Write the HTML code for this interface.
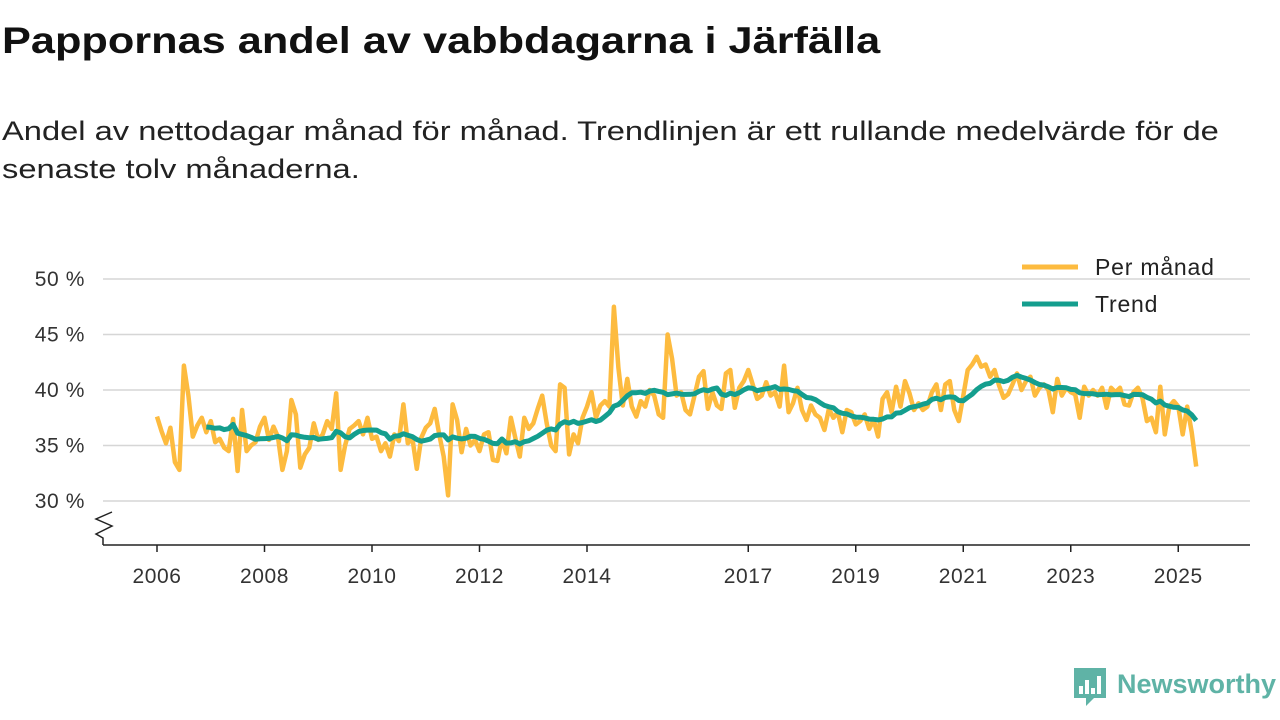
<!DOCTYPE html>
<html><head><meta charset="utf-8"><style>
body{margin:0;width:1280px;height:720px;background:#fff;font-family:"Liberation Sans",sans-serif;color:#111;overflow:hidden;position:relative}
h1{position:absolute;left:2px;top:20px;margin:0;font-size:37px;font-weight:bold;white-space:nowrap;transform:scaleX(1.17);transform-origin:left top}
p.sub{position:absolute;left:2px;top:112px;margin:0;font-size:27px;line-height:38px;width:1020px;color:#222;transform:scaleX(1.21);transform-origin:left top}
svg{position:absolute;left:0;top:0}
</style></head><body>
<h1>Pappornas andel av vabbdagarna i Järfälla</h1>
<p class="sub">Andel av nettodagar månad för månad. Trendlinjen är ett rullande medelvärde för de senaste tolv månaderna.</p>
<svg id="chart" width="1280" height="720"></svg>
<script>
const yTicks=[30,35,40,45,50];
const xTickYears=[2006,2008,2010,2012,2014,2017,2019,2021,2023,2025];
const startYear=2006;
const monthly=[
37.6,36.3,35.2,36.6,33.5,32.8,42.2,39.5,35.8,36.8,37.5,36.2,
37.2,35.3,35.6,34.8,34.5,37.4,32.7,38.2,34.5,35,35.3,36.7,
37.5,35.5,36.7,35.8,32.8,34.5,39.1,37.8,33,34.2,34.8,37,
35.5,36,37.2,36.5,39.7,32.8,35,36.5,36.8,37.2,36,37.5,
35.6,35.8,34.5,35.2,34,36,35.4,38.7,35.2,35.7,32.9,35.7,
36.6,37,38.3,36,34,30.5,38.7,37.3,34.4,36.5,35,35.5,
34.5,36,36.2,33.7,33.6,35.6,34.3,37.5,35.7,34,37.5,36.5,
37,38.3,39.5,37,35,34.5,40.5,40.2,34.2,36,35.2,37.5,
38.5,39.8,37.5,38.6,39,38.5,47.5,42,38.6,41,38.5,37.6,
39,38.5,40,39.5,37.8,37.5,45,42.8,39.5,39.8,38.2,37.8,
39.5,41.2,41.7,38.3,39.8,38.6,38.3,41.5,41.8,38.4,40.2,40.8,
41.8,40.5,39.2,39.5,40.7,39.5,39.8,38.5,42.2,38,38.8,40.2,
38.2,37.3,38.6,37.8,37.5,36.4,38.3,37.5,38,36.2,38.2,38,
36.9,37.2,37.8,36.5,37.3,35.8,39.2,39.8,38,40.3,38.5,40.8,
39.7,38.2,38.8,38.2,38.5,39.8,40.5,38.2,40.5,40.8,38.2,37.2,
39.5,41.8,42.3,43,42.1,42.3,41.2,41.8,40.4,39.3,39.6,40.5,
41.5,40,40.8,41.2,39.5,40.2,40.5,40,38,41,39.5,40.2,
39.8,39.6,37.5,40.3,39.5,40,39.5,40.2,38.4,40.2,39.8,40.2,
38.7,38.6,39.8,40.2,39.3,37.2,37.5,36.2,40.3,36,38.5,39,
38.5,36,38.5,36.2,33.1];
const NS='http://www.w3.org/2000/svg';
const svg=document.getElementById('chart');
const x=t=>157+(t-startYear)*53.75;
const y=v=>501-(v-30)*11.1;
function mk(tag,attrs,parent){const e=document.createElementNS(NS,tag);for(const k in attrs)e.setAttribute(k,attrs[k]);(parent||svg).appendChild(e);return e;}
yTicks.forEach(v=>{
  const g=mk('line',{x1:103,x2:1250,y1:y(v),y2:y(v),stroke:'#d6d6d6','stroke-width':1.5});
  
  
  const t=mk('text',{x:85,y:y(v)+7,'text-anchor':'end','font-size':21,fill:'#333','letter-spacing':'0.6'});
  t.textContent=v+' %';
  
  
});
const ax=mk('path',{d:'M103 545 H1250',stroke:'#222','stroke-width':1.5,fill:'none'});


const br=mk('path',{d:'M103 545 V538 L96 534 L112 526 L96 519 L112 512',stroke:'#222','stroke-width':1.5,fill:'none'});


xTickYears.forEach(yr=>{
  const l=mk('line',{x1:x(yr),x2:x(yr),y1:545,y2:552,stroke:'#222','stroke-width':1.5});
  
  
  const t=mk('text',{x:x(yr),y:583,'text-anchor':'middle','font-size':21,fill:'#333','letter-spacing':'0.6'});
  t.textContent=yr;
  
  
});
const pts=monthly.map((v,i)=>x(startYear+i/12).toFixed(1)+','+y(v).toFixed(1)).join(' ');
const m=mk('polyline',{points:pts,fill:'none',stroke:'#FDBB3F','stroke-width':4.5,'stroke-linejoin':'round'});


const tp=[];
for(let i=11;i<monthly.length;i++){let s=0;for(let j=i-11;j<=i;j++)s+=monthly[j];tp.push(x(startYear+i/12).toFixed(1)+','+y(s/12).toFixed(1));}
const tr=mk('polyline',{points:tp.join(' '),fill:'none',stroke:'#149E8E','stroke-width':5,'stroke-linejoin':'round'});


[['Per månad','#FDBB3F',267],['Trend','#149E8E',304]].forEach(([n,c,yy])=>{
  const l=mk('line',{x1:1022,x2:1078,y1:yy,y2:yy,stroke:c,'stroke-width':5});
  
  
  const t=mk('text',{x:1095,y:yy+8,'font-size':23,fill:'#222','letter-spacing':'0.8'});
  t.textContent=n;
  
  
});
const logo=mk('g',{});


mk('path',{d:'M1074 668 H1106 V698 H1094 L1086 706 V698 H1074 Z',fill:'#5fb3a6'},logo);
[[1079,686,4,8],[1085,680,4,14],[1091,688,4,6],[1097,676,4,18]].forEach(r=>mk('rect',{x:r[0],y:r[1],width:r[2],height:r[3],fill:'#fff'},logo));
const lt=mk('text',{x:1117,y:693,'font-size':27,'font-weight':'bold',fill:'#5fb3a6'},logo);
lt.textContent='Newsworthy';
</script>
</body></html>
